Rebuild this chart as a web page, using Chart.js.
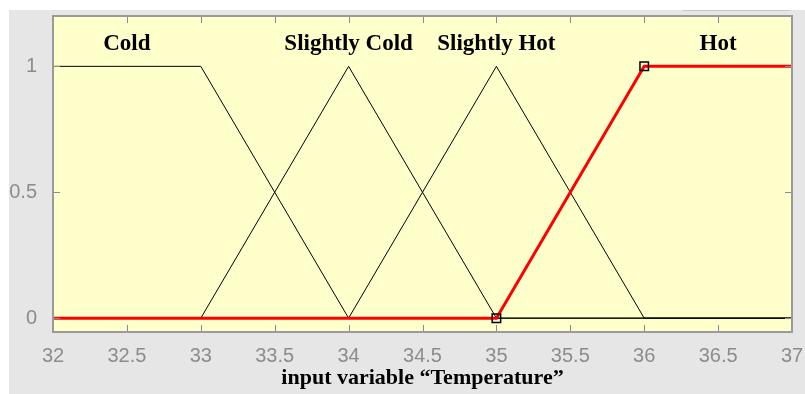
<!DOCTYPE html>
<html>
<head>
<meta charset="utf-8">
<script src="https://cdn.jsdelivr.net/npm/chart.js@4/dist/chart.umd.min.js"></script>
<style>
  html, body { margin: 0; padding: 0; background: #ffffff; }
  #wrap { width: 805px; height: 394px; position: relative; }
</style>
</head>
<body>
<div id="wrap"><canvas id="mfChart" width="805" height="394"></canvas></div>
<script>
// membership functions of "Temperature"
const xTicks = [32, 32.5, 33, 33.5, 34, 34.5, 35, 35.5, 36, 36.5, 37];
const yTicks = [0, 0.5, 1];

const coldX = [32, 33, 34, 37];
const coldY = [1, 1, 0, 0];
const slColdX = [32, 33, 34, 35, 37];
const slColdY = [0, 0, 1, 0, 0];
const slHotX = [32, 34, 35, 36, 37];
const slHotY = [0, 0, 1, 0, 0];
const hotX = [32, 35, 36, 37];
const hotY = [0, 0, 1, 1];

// marker squares on the selected (Hot) function
const markX = [35, 36];
const markY = [0, 1];

// names of the sets and where they sit
const setNames = ['Cold', 'Slightly Cold', 'Slightly Hot', 'Hot'];
const nameX = [32.5, 34, 35, 36.5];
const nameY = 1.087;

function pts(xs, ys) {
    return xs.map((x, i) => ({ x: x, y: ys[i] }));
}

function blackLine(xs, ys) {
    return {
        data: pts(xs, ys),
        borderColor: '#000000',
        borderWidth: 1,
        pointRadius: 0,
        tension: 0,
        order: 2
    };
}

// gray panel, plot box, inward ticks and set names
const decorPlugin = {
    id: 'decor',
    beforeDraw(chart) {
        const ctx = chart.ctx;
        const a = chart.chartArea;
        ctx.save();
        ctx.fillStyle = '#ffffff';
        ctx.fillRect(0, 0, chart.width, chart.height);
        ctx.fillStyle = '#e6e6e6';
        ctx.fillRect(9, 10, chart.width - 9, chart.height - 10);
        ctx.strokeStyle = '#c8c8c8';
        ctx.lineWidth = 1;
        ctx.beginPath();
        ctx.moveTo(683, 10.5);
        ctx.lineTo(790, 10.5);
        ctx.stroke();
        ctx.fillStyle = '#ffffcc';
        ctx.fillRect(a.left, a.top, a.right - a.left, a.bottom - a.top);
        ctx.restore();
    },
    afterDraw(chart) {
        const ctx = chart.ctx;
        const a = chart.chartArea;
        const xs = chart.scales.x;
        const ys = chart.scales.y;
        ctx.save();
        ctx.strokeStyle = '#8c8c8c';
        ctx.lineWidth = 1;
        ctx.beginPath();
        xTicks.forEach(v => {
            const px = Math.round(xs.getPixelForValue(v)) + 0.5;
            ctx.moveTo(px, a.bottom); ctx.lineTo(px, a.bottom - 7);
            ctx.moveTo(px, a.top); ctx.lineTo(px, a.top + 7);
        });
        yTicks.forEach(v => {
            const py = Math.round(ys.getPixelForValue(v)) + 0.5;
            ctx.moveTo(a.left, py); ctx.lineTo(a.left + 7, py);
            ctx.moveTo(a.right, py); ctx.lineTo(a.right - 7, py);
        });
        ctx.stroke();
        ctx.strokeStyle = '#9a9a9a';
        ctx.lineWidth = 2;
        ctx.strokeRect(a.left, a.top, a.right - a.left, a.bottom - a.top);
        ctx.fillStyle = '#000000';
        ctx.font = 'bold 23px "Liberation Serif", "Times New Roman", serif';
        ctx.textAlign = 'center';
        ctx.textBaseline = 'middle';
        setNames.forEach((n, i) => {
            ctx.fillText(n, xs.getPixelForValue(nameX[i]), ys.getPixelForValue(nameY));
        });
        ctx.restore();
    }
};

const tickFont = { family: '"Liberation Sans", Arial, sans-serif', size: 20 };

new Chart(document.getElementById('mfChart'), {
    type: 'line',
    data: {
        datasets: [
            blackLine(coldX, coldY),
            blackLine(slColdX, slColdY),
            blackLine(slHotX, slHotY),
            {
                data: pts(hotX, hotY),
                borderColor: '#ff0000',
                borderWidth: 3,
                pointRadius: 0,
                tension: 0,
                order: 1
            },
            {
                data: pts(markX, markY),
                showLine: false,
                pointStyle: 'rect',
                pointRadius: 6,
                pointBorderWidth: 1.5,
                pointBorderColor: '#000000',
                pointBackgroundColor: 'rgba(0,0,0,0)',
                order: 0
            }
        ]
    },
    options: {
        responsive: false,
        animation: false,
        events: [],
        layout: { padding: { left: 0, top: 16, right: 13, bottom: 0 } },
        plugins: {
            legend: { display: false },
            tooltip: { enabled: false }
        },
        scales: {
            x: {
                type: 'linear',
                min: 32,
                max: 37,
                afterBuildTicks: s => { s.ticks = xTicks.map(v => ({ value: v })); },
                afterFit: s => { s.height = 62; s.paddingLeft = 0; s.paddingRight = 0; },
                grid: { display: false },
                border: { display: false },
                ticks: {
                    color: '#8c8c8c',
                    padding: 4,
                    font: tickFont,
                    callback: v => String(v)
                },
                title: {
                    display: true,
                    text: 'input variable “Temperature”',
                    color: '#000000',
                    padding: { top: 0, bottom: 2 },
                    font: { family: '"Liberation Serif", "Times New Roman", serif', size: 22, weight: 'bold' }
                }
            },
            y: {
                type: 'linear',
                min: -0.055,
                max: 1.2,
                afterBuildTicks: s => { s.ticks = yTicks.map(v => ({ value: v })); },
                afterFit: s => { s.width = 53; s.paddingTop = 0; s.paddingBottom = 0; },
                grid: { display: false },
                border: { display: false },
                ticks: {
                    color: '#8c8c8c',
                    padding: 8,
                    font: tickFont,
                    callback: v => String(v)
                }
            }
        }
    },
    plugins: [decorPlugin]
});
</script>
</body>
</html>
